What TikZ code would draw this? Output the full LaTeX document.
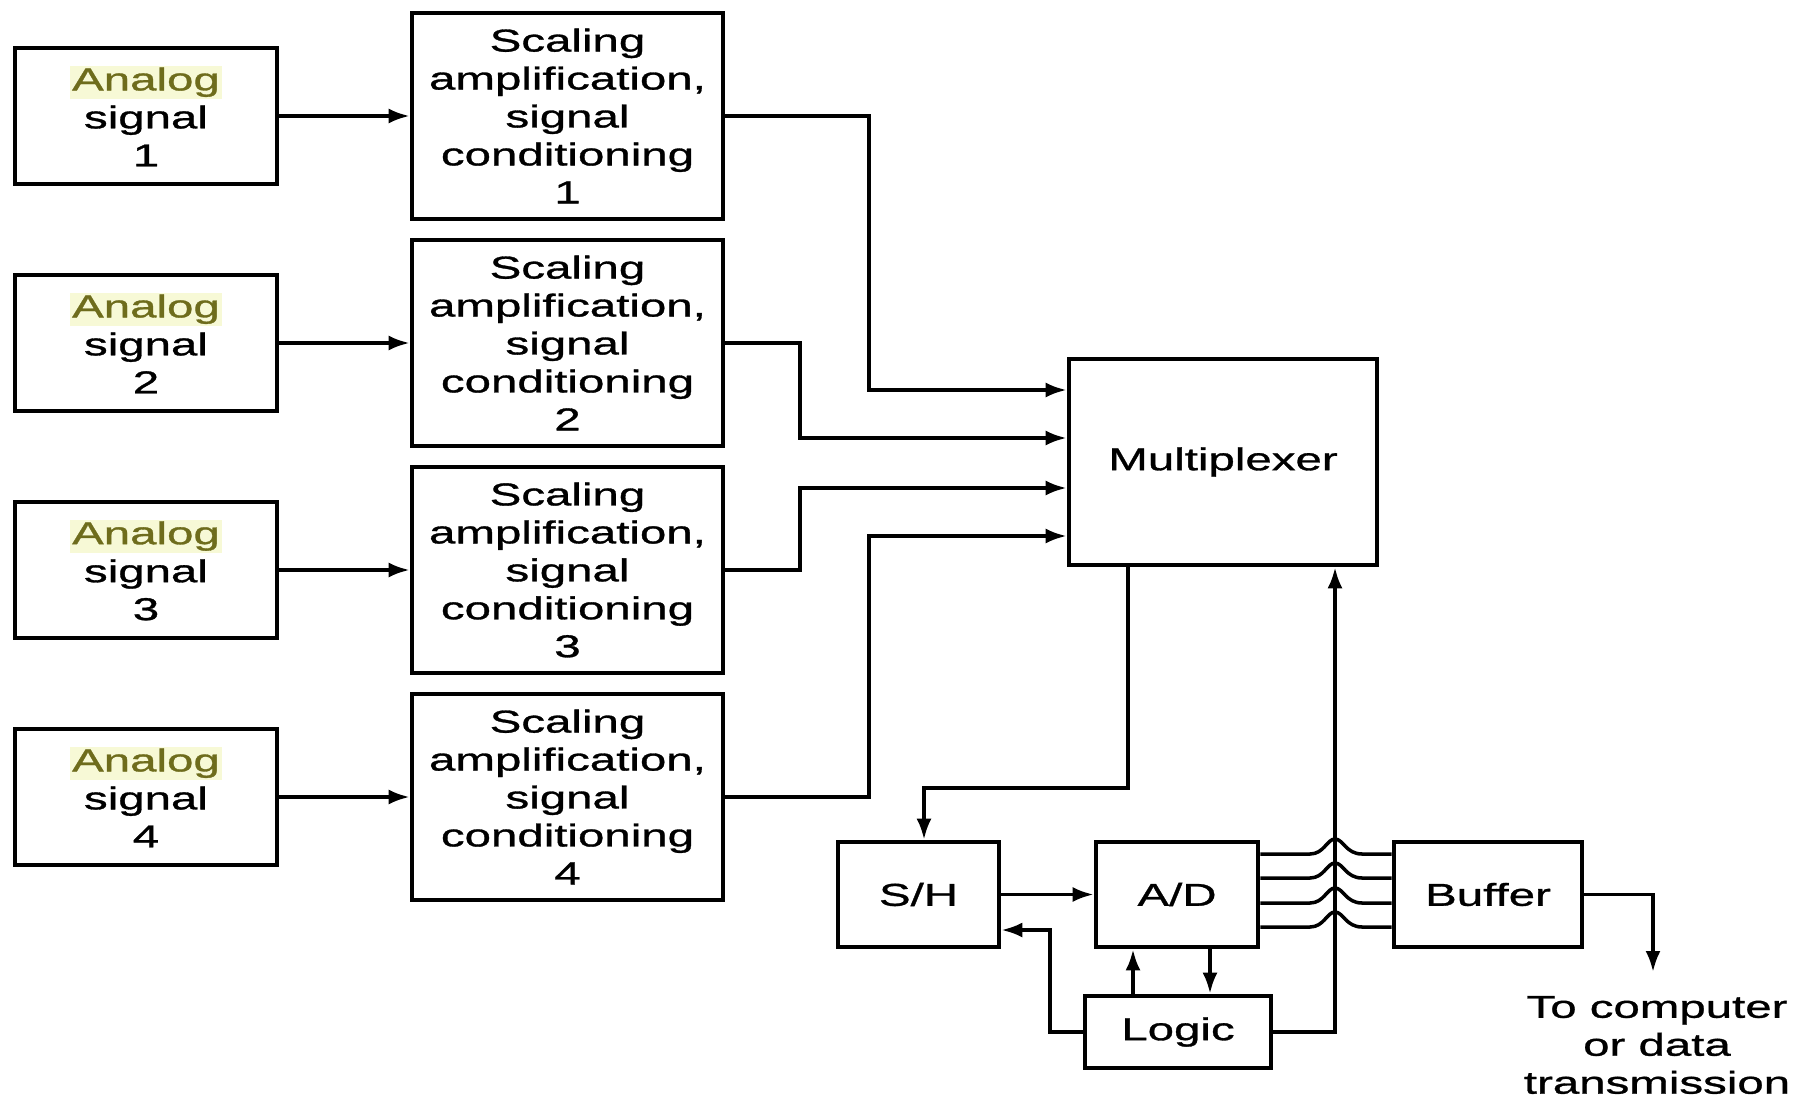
\documentclass[tikz,border=0pt]{standalone}
\usepackage{fontspec}
\setmainfont{Liberation Sans}[FakeStretch=1.5,FakeBold=1]
\usetikzlibrary{arrows.meta}
\definecolor{anacol}{HTML}{6E6C1C}
\definecolor{hlcol}{HTML}{F7F9D6}
\newcommand{\anlg}{{\setlength{\fboxsep}{1pt}\colorbox{hlcol}{\textcolor{anacol}{Analog}}}}
\tikzset{
  blk/.style={draw=black, line width=2.7pt, fill=white, inner sep=0pt, align=center,
    font=\fontsize{18}{21.6}\selectfont},
  anbox/.style={blk, minimum width=5.24cm, minimum height=2.72cm},
  scbox/.style={blk, minimum width=6.22cm, minimum height=4.12cm},
  arr/.style={line width=2pt, -{Latex[length=0.42cm,width=0.3cm]}},
  ln/.style={line width=2pt},
  lbl/.style={align=center, inner sep=0pt, font=\fontsize{18}{21.6}\selectfont}
}
\begin{document}
\begin{tikzpicture}[x=0.02cm,y=-0.02cm]
\useasboundingbox (0,0) rectangle (1804,1101);
% analog sources
\node[anbox] (a1) at (146,116) {\anlg\\signal\\1};
\node[anbox] (a2) at (146,343) {\anlg\\signal\\2};
\node[anbox] (a3) at (146,570) {\anlg\\signal\\3};
\node[anbox] (a4) at (146,797) {\anlg\\signal\\4};
% conditioning
\node[scbox] (s1) at (567.5,116) {Scaling\\amplification,\\signal\\conditioning\\1};
\node[scbox] (s2) at (567.5,343) {Scaling\\amplification,\\signal\\conditioning\\2};
\node[scbox] (s3) at (567.5,570) {Scaling\\amplification,\\signal\\conditioning\\3};
\node[scbox] (s4) at (567.5,797) {Scaling\\amplification,\\signal\\conditioning\\4};
% multiplexer and chain
\node[blk, minimum width=6.16cm, minimum height=4.12cm] (m) at (1223,462) {Multiplexer};
\node[blk, minimum width=3.22cm, minimum height=2.1cm] (sh) at (918.5,894.5) {S/H};
\node[blk, minimum width=3.24cm, minimum height=2.1cm] (ad) at (1177,894.5) {A/D};
\node[blk, minimum width=3.76cm, minimum height=2.1cm] (buf) at (1488,894.5) {Buffer};
\node[blk, minimum width=3.72cm, minimum height=1.44cm] (lg) at (1178,1032) {Logic};
\node[lbl] (txt) at (1657,1045) {To computer\\or data\\transmission};
% helper coordinates
\coordinate (y1) at (0,390);
\coordinate (y2) at (0,438);
\coordinate (y3) at (0,488);
\coordinate (y4) at (0,536);
\coordinate (xa) at (869,0);
\coordinate (xb) at (800,0);
\coordinate (mo) at (1128,0);
\coordinate (mb) at (0,788);
\coordinate (shx) at (924,0);
\coordinate (lx) at (1050,0);
\coordinate (ly) at (0,930);
\coordinate (ux) at (1133,0);
\coordinate (dx) at (1210,0);
\coordinate (cx) at (1335,0);
\coordinate (out) at (1653,972);
% analog -> conditioning
\draw[arr] (a1.east) -- (s1.west);
\draw[arr] (a2.east) -- (s2.west);
\draw[arr] (a3.east) -- (s3.west);
\draw[arr] (a4.east) -- (s4.west);
% conditioning -> multiplexer
\draw[arr] (s1.east) -| (xa |- y1) -- (m.west |- y1);
\draw[arr] (s2.east) -| (xb |- y2) -- (m.west |- y2);
\draw[arr] (s3.east) -| (xb |- y3) -- (m.west |- y3);
\draw[arr] (s4.east) -| (xa |- y4) -- (m.west |- y4);
% multiplexer -> S/H
\draw[arr] (m.south -| mo) -- (mo |- mb) -- (shx |- mb) -- (sh.north -| shx);
% S/H -> A/D
\draw[arr] (sh.east) -- (ad.west);
% Logic -> S/H
\draw[arr] (lg.west) -| (lx |- ly) -- (sh.east |- ly);
% Logic <-> A/D
\draw[arr] (lg.north -| ux) -- (ad.south -| ux);
\draw[arr] (ad.south -| dx) -- (lg.north -| dx);
% Logic -> multiplexer
\draw[arr] (lg.east) -| (m.south -| cx);
% A/D -> Buffer data lines with hops
\foreach \yy in {854,878,903,927}{
  \coordinate (hl) at (1310,\yy);
  \coordinate (hr) at (1362,\yy);
  \draw[ln] (ad.east |- hl) -- (hl) .. controls (1324,\yy) and (1327,\yy-15) .. (1335,\yy-15)
     .. controls (1343,\yy-15) and (1346,\yy) .. (hr) -- (buf.west |- hr);
}
% Buffer -> output
\draw[arr] (buf.east) -| (out);
\end{tikzpicture}
\end{document}
